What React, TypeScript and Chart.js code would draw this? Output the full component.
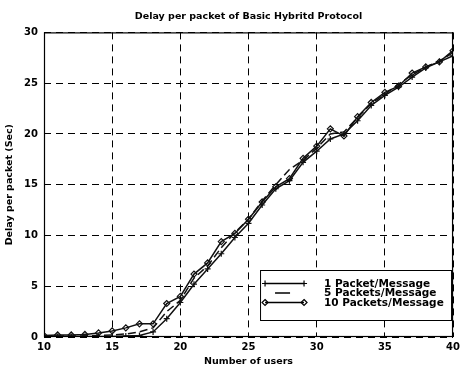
import React, { useEffect, useRef } from "react";
import { Chart, registerables } from "chart.js";

Chart.register(...registerables);

const chartTitle = "Delay per packet of Basic Hybritd Protocol";
const xAxisTitle = "Number of users";
const yAxisTitle = "Delay per packet (Sec)";

const users = [10, 11, 12, 13, 14, 15, 16, 17, 18, 19, 20, 21, 22, 23, 24, 25, 26, 27, 28, 29, 30, 31, 32, 33, 34, 35, 36, 37, 38, 39, 40];

const seriesLabels = ["1 Packet/Message", "5 Packets/Message", "10 Packets/Message"];

const onePacket = [0.05, 0.05, 0.05, 0.05, 0.05, 0.05, 0.1, 0.15, 0.5, 1.8, 3.4, 5.2, 6.7, 8.2, 9.8, 11.2, 13.0, 14.6, 15.4, 17.2, 18.3, 19.5, 20.0, 21.3, 22.8, 23.8, 24.6, 25.6, 26.5, 27.1, 27.7];
const fivePackets = [0.1, 0.1, 0.1, 0.1, 0.15, 0.2, 0.3, 0.5, 0.9, 2.5, 3.6, 5.8, 7.0, 8.8, 10.3, 11.6, 13.4, 15.0, 16.5, 17.4, 18.6, 20.0, 20.2, 21.6, 23.0, 23.9, 24.9, 25.8, 26.6, 27.2, 28.0];
const tenPackets = [0.15, 0.2, 0.2, 0.25, 0.4, 0.6, 0.9, 1.3, 1.3, 3.3, 4.0, 6.2, 7.3, 9.4, 10.2, 11.6, 13.3, 14.8, 15.6, 17.6, 18.8, 20.5, 19.8, 21.7, 23.1, 24.1, 24.7, 26.0, 26.6, 27.1, 28.2];

const xMin = 10;
const xMax = 40;
const xStep = 5;
const yMin = 0;
const yMax = 30;
const yStep = 5;

const FONT = "'DejaVu Sans', 'Liberation Sans', Arial, sans-serif";

function drawMarker(ctx: CanvasRenderingContext2D, style: string, x: number, y: number, r: number) {
  ctx.beginPath();
  if (style === "cross") {
    ctx.moveTo(x - r, y);
    ctx.lineTo(x + r, y);
    ctx.moveTo(x, y - r);
    ctx.lineTo(x, y + r);
    ctx.stroke();
  } else if (style === "rectRot") {
    ctx.moveTo(x, y - r);
    ctx.lineTo(x + r, y);
    ctx.lineTo(x, y + r);
    ctx.lineTo(x - r, y);
    ctx.closePath();
    ctx.stroke();
  }
}

const framePlugin = {
  id: "frame",
  afterDatasetsDraw(chart: any) {
    const { ctx, chartArea } = chart;
    ctx.save();
    ctx.strokeStyle = "#000";
    ctx.lineWidth = 1.2;
    ctx.setLineDash([]);
    ctx.strokeRect(chartArea.left + 0.5, chartArea.top + 0.5, chartArea.right - chartArea.left - 1, chartArea.bottom - chartArea.top - 1);
    ctx.restore();
  },
};

const legendPlugin = {
  id: "insideLegend",
  afterDraw(chart: any) {
    const { ctx, chartArea } = chart;
    const w = 191;
    const h = 50;
    const x0 = chartArea.right - 2 - w;
    const y0 = chartArea.bottom - 17 - h;
    ctx.save();
    ctx.fillStyle = "#fff";
    ctx.fillRect(x0, y0, w, h);
    ctx.strokeStyle = "#000";
    ctx.lineWidth = 1;
    ctx.setLineDash([]);
    ctx.strokeRect(x0 + 0.5, y0 + 0.5, w, h);
    ctx.font = "bold 10.5px " + FONT;
    ctx.textBaseline = "middle";
    ctx.textAlign = "left";
    chart.data.datasets.forEach((ds: any, i: number) => {
      const y = y0 + 13.5 + i * 9.5;
      const lx0 = x0 + 5;
      const lx1 = x0 + 44;
      ctx.strokeStyle = "#000";
      ctx.lineWidth = 1.5;
      ctx.setLineDash([]);
      ctx.beginPath();
      if (ds.borderDash && ds.borderDash.length) {
        ctx.moveTo(x0 + 15, y);
        ctx.lineTo(x0 + 30, y);
      } else {
        ctx.moveTo(lx0, y);
        ctx.lineTo(lx1, y);
      }
      ctx.stroke();
      if (ds.pointRadius > 0) {
        ctx.lineWidth = 1.2;
        drawMarker(ctx, ds.pointStyle, lx0, y, 3);
        drawMarker(ctx, ds.pointStyle, lx1, y, 3);
      }
      ctx.fillStyle = "#000";
      ctx.fillText(ds.label, x0 + 64, y + 0.5);
    });
    ctx.restore();
  },
};

export default function App() {
  const canvasRef = useRef<HTMLCanvasElement | null>(null);

  useEffect(() => {
    document.body.style.margin = "0";
    document.body.style.background = "#fff";
    const canvas = canvasRef.current;
    if (!canvas) return;

    const toPoints = (vals: number[]) => users.map((u, i) => ({ x: u, y: vals[i] }));

    const chart = new Chart(canvas, {
      type: "line",
      data: {
        datasets: [
          {
            label: seriesLabels[0],
            data: toPoints(onePacket),
            borderColor: "#111",
            borderWidth: 1.5,
            pointStyle: "cross",
            pointRadius: 3,
            pointBorderWidth: 1.2,
            pointBorderColor: "#111",
            pointBackgroundColor: "rgba(0,0,0,0)",
            tension: 0,
            fill: false,
          },
          {
            label: seriesLabels[1],
            data: toPoints(fivePackets),
            borderColor: "#111",
            borderWidth: 1.5,
            borderDash: [8, 4],
            pointRadius: 0,
            tension: 0,
            fill: false,
          },
          {
            label: seriesLabels[2],
            data: toPoints(tenPackets),
            borderColor: "#111",
            borderWidth: 1.5,
            pointStyle: "rectRot",
            pointRadius: 3,
            pointBorderWidth: 1.2,
            pointBorderColor: "#111",
            pointBackgroundColor: "rgba(255,255,255,0)",
            tension: 0,
            fill: false,
          },
        ],
      },
      options: {
        responsive: false,
        animation: false,
        devicePixelRatio: 1,
        layout: { padding: { left: 0, right: 9, top: 0, bottom: 0 } },
        plugins: {
          legend: { display: false },
          tooltip: { enabled: false },
          title: {
            display: true,
            text: chartTitle,
            fullSize: false,
            color: "#000",
            font: { family: FONT, size: 9.5, weight: "bold" },
            padding: { top: 11, bottom: 10 },
          },
        },
        scales: {
          x: {
            type: "linear",
            min: xMin,
            max: xMax,
            ticks: {
              stepSize: xStep,
              color: "#000",
              font: { family: FONT, size: 10, weight: "bold" },
              padding: 4,
              maxRotation: 0,
            },
            grid: { color: "#000", lineWidth: 1, drawTicks: false },
            border: { display: false, dash: [7, 5] },
            title: {
              display: true,
              text: xAxisTitle,
              color: "#000",
              font: { family: FONT, size: 9.5, weight: "bold" },
              padding: { top: 0, bottom: 0 },
            },
            afterFit: (scale: any) => {
              scale.height = 30;
            },
          },
          y: {
            type: "linear",
            min: yMin,
            max: yMax,
            ticks: {
              stepSize: yStep,
              color: "#000",
              font: { family: FONT, size: 10, weight: "bold" },
              padding: 6,
            },
            grid: { color: "#000", lineWidth: 1, drawTicks: false },
            border: { display: false, dash: [7, 5] },
            title: {
              display: true,
              text: yAxisTitle,
              color: "#000",
              font: { family: FONT, size: 9.5, weight: "bold" },
              padding: { top: 4, bottom: 0 },
            },
            afterFit: (scale: any) => {
              scale.width = 44;
            },
          },
        },
      },
      plugins: [framePlugin, legendPlugin],
    } as any);

    return () => chart.destroy();
  }, []);

  return (
    <div style={{ width: 464, height: 367, background: "#fff" }}>
      <canvas ref={canvasRef} width={464} height={367} />
    </div>
  );
}
